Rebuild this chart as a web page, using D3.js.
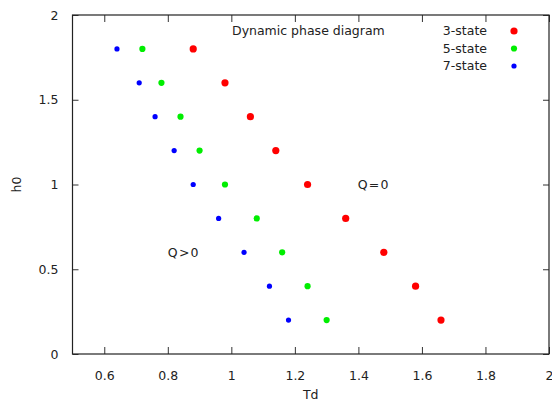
<!DOCTYPE html>
<html>
<head>
<meta charset="utf-8">
<script src="https://cdn.jsdelivr.net/npm/d3@7"></script>
<style>
body { margin: 0; background: #fff; }
text { font-family: "DejaVu Sans", sans-serif; font-size: 12.5px; fill: #222; }
</style>
</head>
<body>
<div id="graph1"></div>
<script>
// h0 values shared by every series
var h0 = [1.8, 1.6, 1.4, 1.2, 1.0, 0.8, 0.6, 0.4, 0.2];
// Td per series
var td3 = [0.88, 0.98, 1.06, 1.14, 1.24, 1.36, 1.48, 1.58, 1.66];
var td5 = [0.72, 0.78, 0.84, 0.90, 0.98, 1.08, 1.16, 1.24, 1.30];
var td7 = [0.64, 0.71, 0.76, 0.82, 0.88, 0.96, 1.04, 1.12, 1.18];
var seriesNames = ["3-state", "5-state", "7-state"];
var xTicks = [0.6, 0.8, 1, 1.2, 1.4, 1.6, 1.8, 2];
var yTicks = [0, 0.5, 1, 1.5, 2];

var colors = ["#ff0000", "#00ee00", "#0000ff"];
var radius = [3.6, 3.1, 2.6];

var margin = {top: 15, right: 3, bottom: 49, left: 72.5}
var width = 552 - margin.left - margin.right;
var height = 403 - margin.top - margin.bottom;

var xScale = d3.scaleLinear().domain([0.5, 2]).range([0, width]);
var yScale = d3.scaleLinear().domain([0, 2]).range([height, 0]);

var svg = d3.select("#graph1").append("svg")
    .attr("width", 552)
    .attr("height", 403)
  .append("g")
    .attr("transform", "translate(" + margin.left + "," + margin.top + ")");

var fmt = function(d) { return d3.format("")(d); };

// axes: ticks pointing inwards, mirrored on top/right
svg.append("g")
    .attr("transform", "translate(0," + height + ")")
    .call(d3.axisBottom(xScale).tickValues(xTicks).tickSizeInner(-7).tickSizeOuter(0).tickPadding(17).tickFormat(fmt));
svg.append("g")
    .call(d3.axisTop(xScale).tickValues(xTicks).tickSizeInner(-7).tickSizeOuter(0).tickFormat(""));
svg.append("g")
    .call(d3.axisLeft(yScale).tickValues(yTicks).tickSizeInner(-6).tickSizeOuter(0).tickPadding(14).tickFormat(fmt));
svg.append("g")
    .attr("transform", "translate(" + width + ",0)")
    .call(d3.axisRight(yScale).tickValues(yTicks).tickSizeInner(-6).tickSizeOuter(0).tickFormat(""));

svg.selectAll(".domain").remove();
svg.selectAll(".tick line").attr("stroke", "#333");
svg.selectAll(".tick text").attr("fill", "#222").style("font-size", "12.5px").style("font-family", "DejaVu Sans, sans-serif");

// frame
svg.append("rect")
    .attr("x", 0).attr("y", 0)
    .attr("width", width).attr("height", height)
    .attr("fill", "none").attr("stroke", "#222").attr("stroke-width", 1.2);

// points
var allSeries = [td3, td5, td7];
allSeries.forEach(function(td, s) {
    svg.selectAll(".dot" + s)
        .data(td)
        .enter().append("circle")
        .attr("class", "dot" + s)
        .attr("cx", function(d) { return xScale(d); })
        .attr("cy", function(d, i) { return yScale(h0[i]); })
        .attr("r", radius[s])
        .attr("fill", colors[s]);
});

// legend
seriesNames.forEach(function(name, s) {
    var ly = 16 + s * 17.5;
    svg.append("text")
        .attr("x", 487 - margin.left).attr("y", ly)
        .attr("dy", "0.35em")
        .attr("text-anchor", "end")
        .text(name);
    svg.append("circle")
        .attr("cx", 514 - margin.left).attr("cy", ly)
        .attr("r", radius[s])
        .attr("fill", colors[s]);
});

// title and region labels
svg.append("text")
    .attr("x", 232 - margin.left).attr("y", 16).attr("dy", "0.35em")
    .text("Dynamic phase diagram");
svg.append("text")
    .attr("x", xScale(1.398)).attr("y", yScale(1)).attr("dy", "0.35em")
    .text("Q\u200a=\u200a0");
svg.append("text")
    .attr("x", xScale(0.80)).attr("y", yScale(0.6)).attr("dy", "0.35em")
    .text("Q\u200a>\u200a0");

// axis titles
svg.append("text")
    .attr("x", width / 2).attr("y", 399 - margin.top)
    .attr("text-anchor", "middle")
    .text("Td");
svg.append("text")
    .attr("transform", "translate(" + (21 - margin.left) + "," + (height / 2) + ") rotate(-90)")
    .attr("text-anchor", "middle")
    .text("h0");
</script>
</body>
</html>
